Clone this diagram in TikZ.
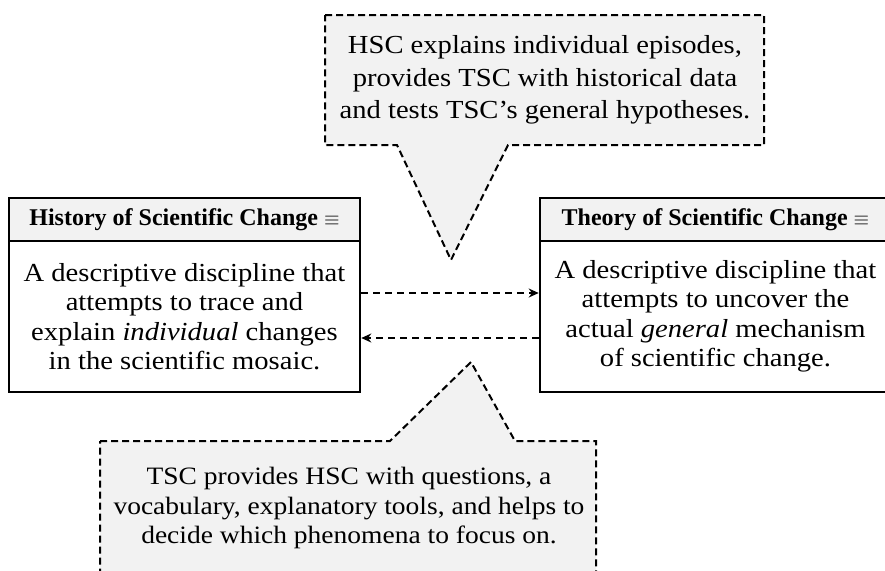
\documentclass[tikz,border=0pt]{standalone}
\usepackage{fontspec}
\setmainfont[FakeStretch=1.1]{Liberation Serif}
\newfontfamily\headfont{Liberation Serif}
\usetikzlibrary{arrows.meta}
\definecolor{calloutfill}{gray}{0.95}
\tikzset{
  x=0.5pt, y=-0.5pt,
  boxline/.style={draw=black, line width=1.3pt},
  headbox/.style={boxline, fill=calloutfill, inner sep=0pt,
    minimum width=175.5pt, minimum height=21.5pt,
    font=\headfont\fontsize{12}{14.5}\selectfont\bfseries},
  bodybox/.style={boxline, fill=white, inner sep=0pt,
    minimum width=175.5pt, minimum height=75.5pt, align=center,
    font=\fontsize{13}{14.75}\selectfont},
  callout/.style={draw=black, line width=1pt, fill=calloutfill,
    dash pattern=on 3.5pt off 2pt, line join=miter},
  callouttext/.style={align=center, inner sep=0pt},
  dasharrow/.style={draw=black, line width=0.8pt,
    dash pattern=on 3.5pt off 2.5pt, -{Stealth[length=5pt,width=4.5pt]}},
  eqv/.style={},
}
\newcommand{\eqvmark}{{\normalfont\fontsize{10}{12}\selectfont$\equiv$}}
\begin{document}
\begin{tikzpicture}
\useasboundingbox (0,0) rectangle (885,570);
\clip (0,0) rectangle (885,570);

% upper speech bubble
\draw[callout] (325,15) -- (764,15) -- (764,145) -- (508,145)
  -- (451,260) -- (397,145) -- (325,145) -- cycle;
\node[callouttext, font=\fontsize{13}{16.25}\selectfont] (hscNote) at (545,80)
  {HSC explains individual episodes,\\
   provides TSC with historical data\\
   and tests TSC’s general hypotheses.};

% lower speech bubble
\draw[callout] (100,441) -- (390,441) -- (471,362) -- (515,441)
  -- (596,441) -- (596,600) -- (100,600) -- cycle;
\node[callouttext, font=\fontsize{12.5}{14.85}\selectfont] (tscNote) at (349,508)
  {TSC provides HSC with questions, a\\
   vocabulary, explanatory tools, and helps to\\
   decide which phenomena to focus on.};

% History of Scientific Change
\node[bodybox] (hscBody) at (184.5,316.5)
  {A descriptive discipline that\\
   attempts to trace and\\
   explain \textit{individual} changes\\
   in the scientific mosaic.};
\node[headbox] (hscHead) at (184.5,219.5)
  {History of Scientific Change \eqvmark};

% Theory of Scientific Change
\node[bodybox] (tscBody) at (715.5,316.5)
  {A descriptive discipline that\\
   attempts to uncover the\\
   actual \textit{general} mechanism\\
   of scientific change.};
\node[headbox] (tscHead) at (715.5,219.5)
  {Theory of Scientific Change \eqvmark};

% mutual dependence
\draw[dasharrow] ([yshift=11.75pt]hscBody.east) -- ([yshift=11.75pt]tscBody.west);
\draw[dasharrow] ([yshift=-10.75pt]tscBody.west) -- ([yshift=-10.75pt]hscBody.east);
\end{tikzpicture}
\end{document}
